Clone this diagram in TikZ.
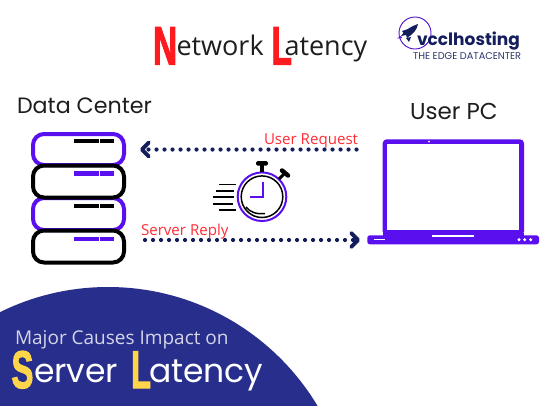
\documentclass[tikz,border=0pt]{standalone}
\usepackage{fontspec}
\setmainfont{Open Sans}
\newfontfamily\pop{Poppins}
\newfontfamily\capf{Liberation Sans Bold}[FakeBold=2.5]
\usetikzlibrary{arrows.meta}
\definecolor{violetA}{HTML}{5A0FEF}
\definecolor{navyA}{HTML}{141E5C}
\definecolor{blobA}{HTML}{282E8B}
\definecolor{redA}{HTML}{FF1A1F}
\definecolor{txtred}{HTML}{FF2D35}
\definecolor{yelA}{HTML}{FFD64A}
\definecolor{inkA}{HTML}{1E1E1E}
\tikzset{
  base/.style={inner sep=0pt,outer sep=0pt,anchor=base west},
  srvv/.style={draw=violetA,line width=4pt,rounded corners=11pt},
  srvk/.style={draw=black,line width=4pt,rounded corners=11pt},
  dotarrow/.style={draw=navyA,line width=4.2pt,line cap=round,dash pattern=on 0pt off 8pt,
     -{Straight Barb[length=7pt,width=14pt,line width=3.8pt,round]}},
  hand/.style={draw=violetA,line width=1.7pt},
  speed/.style={draw=black,line width=1.6pt},
  bigcap/.style={base,xscale=.62},
}
\begin{document}
\begin{tikzpicture}[x=1pt,y=-1pt]
\useasboundingbox (0,0) rectangle (540,405);
\fill[white] (0,0) rectangle (540,405);
% blob
\begin{scope}
\clip (0,0) rectangle (540,405);
\fill[blobA] (108,531) circle[radius=244pt];
\end{scope}
% title
\node[bigcap,text=redA,font=\capf\fontsize{54}{54}\selectfont] (tN) at (153,64.5) {N};
\node[base,text=inkA,font=\fontsize{27}{27}\selectfont] (tnet) at (176.5,55.5) {etwork};
\node[bigcap,text=redA,font=\capf\fontsize{54}{54}\selectfont] (tL) at (271.5,64.5) {L};
\node[base,text=inkA,font=\fontsize{27}{27}\selectfont] (tlat) at (284.5,55.5) {atency};
% logo
\draw[violetA!85!black,line width=.9pt] (415,33) circle[radius=16pt];
\fill[navyA] (401,36) .. controls (406,29) and (412,26) .. (418,24) .. controls (417,30) and (413,34) .. (407,38) -- (406,35) -- cycle;
\fill[navyA] (402,31) -- (408,29) -- (405,35) -- cycle;
\fill[navyA] (411,37) -- (409,42) -- (406,38) -- cycle;
\fill[violetA] (401,36) -- (397,38.5) -- (402,38) -- cycle;
\node[base,text=navyA,font=\pop\bfseries\fontsize{17}{18}\selectfont] (logoa) at (417,45) {vcclhosting};
\node[base,text=navyA!90,font=\pop\fontsize{9.8}{10}\selectfont] (logob) at (413,59) {THE EDGE DATACENTER};
% headings
\node[base,text=inkA,font=\pop\fontsize{22.2}{24}\selectfont] (dc) at (17,113.5) {Data Center};
\node[base,text=inkA,font=\pop\fontsize{23}{24}\selectfont] (pc) at (410,119.5) {User PC};
% servers
\draw[srvv] (33,134) rectangle (124,165);
\draw[srvv] (33,198) rectangle (124,230);
\draw[srvk] (33,165.5) rectangle (124,197.5);
\draw[srvk] (33,230.5) rectangle (124,262.5);
\foreach \yy/\cc in {141/black,173.5/violetA,206/black,239/violetA}{
  \fill[\cc] (74.3,\yy-2.3) rectangle (99,\yy+2.3);
  \fill[\cc] (100,\yy-2.3) rectangle (114,\yy+2.3);
}
% arrows
\coordinate (reqs) at (356.5,149.5);
\coordinate (reqe) at (140,149.5);
\coordinate (reps) at (145,240);
\coordinate (repe) at (360,240);
\draw[dotarrow] (reqs) -- (reqe);
\draw[dotarrow] (reps) -- (repe);
\node[base,text=txtred,font=\fontsize{15.1}{16}\selectfont] (lreq) at (264,144) {User Request};
\node[base,text=txtred,font=\fontsize{15.1}{16}\selectfont] (lrep) at (141,235.5) {Server Reply};
% stopwatch
\draw[violetA,line width=2pt] (262,196.7) circle[radius=24.3pt];
\draw[black,line width=1.5pt] (262,196.7) circle[radius=20.8pt];
\draw[hand] (262.7,182) -- (262.7,197) -- (250,197);
\draw[black,line width=1.5pt] (246,207) .. controls (250,212) and (256,214.5) .. (265,213.5);
\fill[black] (260,164) rectangle (263.5,172);
\fill[black,rounded corners=1.5pt] (256,161) rectangle (268,165.5);
\draw[black,line width=3pt] (279,179) -- (284,174);
\draw[black,line width=4.5pt,line cap=round] (282,170.5) -- (288,175.5);
\draw[speed] (219,184.3) -- (236,184.3);
\draw[speed] (216,190.7) -- (234,190.7);
\draw[speed] (213,197) -- (234,197);
\draw[speed] (213,204) -- (233,204);
\draw[speed] (219,210) -- (236,210);
% laptop
\fill[violetA,rounded corners=4pt] (382.7,235.5) -- (382.7,139.3) -- (524,139.3) -- (524,235.5) -- cycle;
\fill[white] (387.3,144) rectangle (519.3,230);
\fill[violetA,rounded corners=2.5pt] (367.3,235.3) rectangle (539,244.3);
\fill[violetA] (382.7,233) rectangle (524,237);
\fill[white] (429,141.7) circle[radius=1pt];
\fill[white] (432.3,235.3) rectangle (474.3,236.8);
\fill[white] (374,238.7) rectangle (385.3,240);
\foreach \xx in {519,524.7,530.7}{\fill[white] (\xx,239.7) circle[radius=1.7pt];}
% bottom text
\node[base,text=white!80!blobA,font=\fontsize{19}{20}\selectfont] (maj) at (15,344.5) {Major Causes Impact on};
\node[bigcap,text=yelA,font=\capf\fontsize{53}{54}\selectfont] (sS) at (11.5,388) {S};
\node[base,text=white,font=\pop\fontsize{33}{36}\selectfont] (serv) at (34,382) {erver};
\node[bigcap,text=yelA,font=\capf\fontsize{53}{54}\selectfont] (sL) at (131,388) {L};
\node[base,text=white,font=\pop\fontsize{33}{36}\selectfont] (slat) at (149,382) {atency};
\end{tikzpicture}
\end{document}
